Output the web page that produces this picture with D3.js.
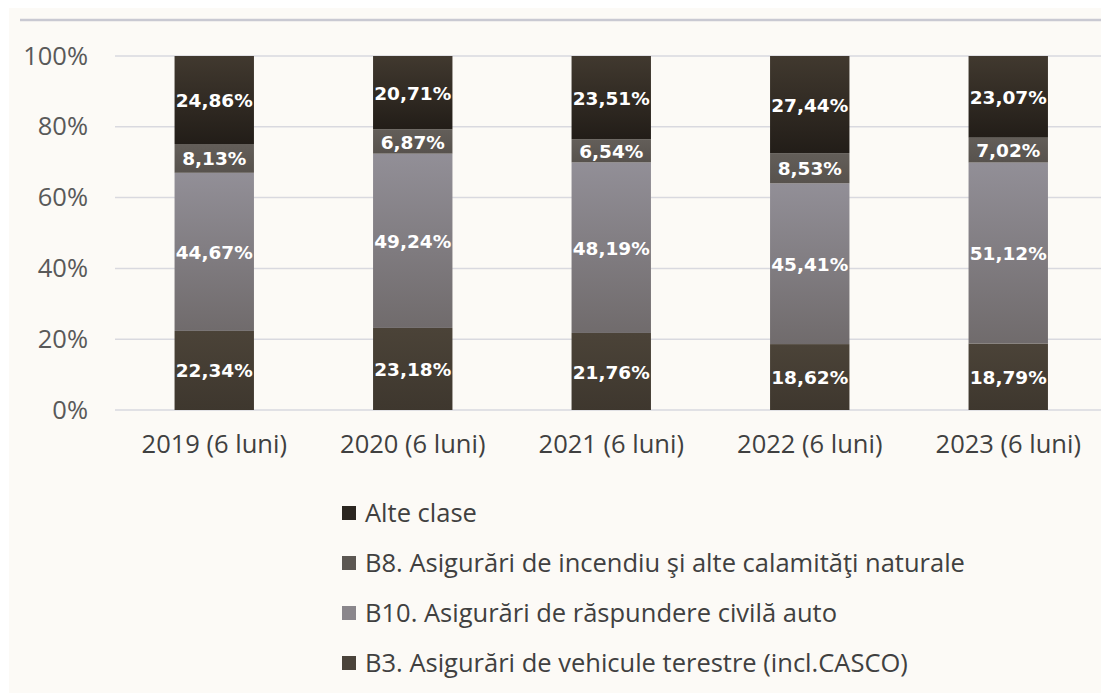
<!DOCTYPE html>
<html>
<head>
<meta charset="utf-8">
<script src="https://cdn.jsdelivr.net/npm/d3@7"></script>
<style>
  body { margin: 0; background: #ffffff; }
  svg { display: block; }
</style>
</head>
<body>
<script>
const width = 1101;
const height = 695;

// chart values
const years = ["2019 (6 luni)", "2020 (6 luni)", "2021 (6 luni)", "2022 (6 luni)", "2023 (6 luni)"];
const b3 = [22.34, 23.18, 21.76, 18.62, 18.79];
const b10 = [44.67, 49.24, 48.19, 45.41, 51.12];
const b8 = [8.13, 6.87, 6.54, 8.53, 7.02];
const alte = [24.86, 20.71, 23.51, 27.44, 23.07];
const seriesNames = [
    "B3. Asigurări de vehicule terestre (incl.CASCO)",
    "B10. Asigurări de răspundere civilă auto",
    "B8. Asigurări de incendiu şi alte calamităţi naturale",
    "Alte clase"
];
const yTicks = [0, 20, 40, 60, 80, 100];

const rows = years.map((y, i) => ({ year: y, s0: b3[i], s1: b10[i], s2: b8[i], s3: alte[i] }));
const keys = ["s0", "s1", "s2", "s3"];

// gradient stops for each series (top, bottom)
const grads = [
    ["#4b4338", "#3e372e"],
    ["#928f97", "#706b6c"],
    ["#635e59", "#57524d"],
    ["#41392f", "#221d18"]
];
const legendColor = ["#4a433a", "#8a868b", "#5c5752", "#2b2620"];

const svg = d3.select("body").append("svg")
    .attr("width", width)
    .attr("height", height);

const defs = svg.append("defs");
grads.forEach((g, i) => {
    const lg = defs.append("linearGradient")
        .attr("id", "g" + i)
        .attr("x1", 0).attr("y1", 0).attr("x2", 0).attr("y2", 1);
    lg.append("stop").attr("offset", "0%").attr("stop-color", g[0]);
    lg.append("stop").attr("offset", "100%").attr("stop-color", g[1]);
});

// panel
svg.append("rect")
    .attr("x", 9).attr("y", 8)
    .attr("width", width - 9).attr("height", height - 10)
    .attr("fill", "#fcfaf6");

svg.append("line")
    .attr("x1", 20).attr("x2", width)
    .attr("y1", 20).attr("y2", 20)
    .attr("stroke", "#c9c9d2")
    .attr("stroke-width", 2.5);

const x = d3.scaleBand()
    .domain(years)
    .range([115, 115 + 5 * 198.5])
    .paddingInner(0.6)
    .paddingOuter(0.3);

const y = d3.scaleLinear()
    .domain([0, 100])
    .range([410, 56]);

// grid
svg.append("g")
    .selectAll("line")
    .data(yTicks)
    .join("line")
    .attr("x1", 115).attr("x2", width)
    .attr("y1", d => y(d)).attr("y2", d => y(d))
    .attr("stroke", "#d9d9df")
    .attr("stroke-width", 1.5);

const font = "'Open Sans', 'Liberation Sans', sans-serif";

// y axis labels
const yAxis = svg.append("g")
    .attr("transform", "translate(88,0)")
    .call(d3.axisLeft(y).tickValues(yTicks).tickSize(0).tickPadding(0).tickFormat(d => d + "%"));
yAxis.select(".domain").remove();
yAxis.selectAll("text")
    .attr("font-family", font)
    .attr("font-size", 25.5)
    .attr("fill", "#595959");

// x axis labels
const xAxis = svg.append("g")
    .attr("transform", "translate(0,435)")
    .call(d3.axisBottom(x).tickSize(0).tickPadding(0));
xAxis.select(".domain").remove();
xAxis.selectAll("text")
    .attr("font-family", font)
    .attr("font-size", 25.5)
    .attr("fill", "#404040");

const stacked = d3.stack().keys(keys)(rows);

const layer = svg.append("g")
    .selectAll("g")
    .data(stacked)
    .join("g")
    .attr("fill", (d, i) => "url(#g" + i + ")");

layer.selectAll("rect")
    .data(d => d)
    .join("rect")
    .attr("x", d => x(d.data.year))
    .attr("width", x.bandwidth())
    .attr("y", d => y(d[1]))
    .attr("height", d => y(d[0]) - y(d[1]));

const fmt = v => v.toFixed(2).replace(".", ",") + "%";

layer.selectAll("text")
    .data((d, i) => d.map(p => ({ p, v: p.data[keys[i]] })))
    .join("text")
    .attr("x", d => x(d.p.data.year) + x.bandwidth() / 2)
    .attr("y", d => (y(d.p[0]) + y(d.p[1])) / 2)
    .attr("dy", "0.38em")
    .attr("text-anchor", "middle")
    .attr("font-family", "'DejaVu Sans', sans-serif")
    .attr("font-weight", "bold")
    .attr("font-size", 18.5)
    .attr("fill", "#ffffff")
    .text(d => fmt(d.v));

// legend, top to bottom
const legendOrder = [3, 2, 1, 0];
const legend = svg.append("g")
    .selectAll("g")
    .data(legendOrder)
    .join("g")
    .attr("transform", (d, i) => `translate(342,${513 + i * 50})`);

legend.append("rect")
    .attr("x", 0).attr("y", -7)
    .attr("width", 14).attr("height", 14)
    .attr("fill", d => legendColor[d]);

legend.append("text")
    .attr("x", 23)
    .attr("dy", "0.36em")
    .attr("font-family", font)
    .attr("font-size", 25.5)
    .attr("fill", "#404040")
    .text(d => seriesNames[d]);
</script>
</body>
</html>
